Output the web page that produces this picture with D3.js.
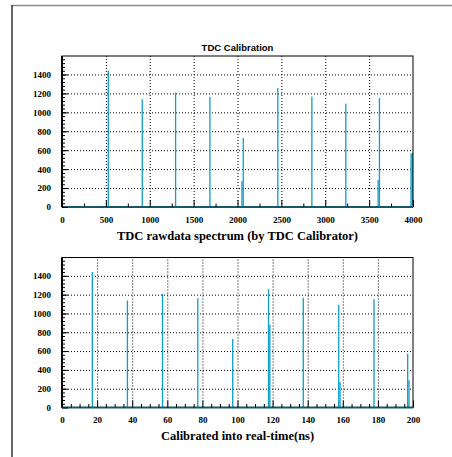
<!DOCTYPE html>
<html>
<head>
<meta charset="utf-8">
<script src="https://cdn.jsdelivr.net/npm/d3@7"></script>
<style>
  html, body { margin: 0; padding: 0; background: #fff; }
  svg { display: block; }
</style>
</head>
<body>
<svg id="chart" width="452" height="457"></svg>
<script>
// TDC calibration: raw channel spectrum and the same peaks mapped to time.
const chartTitle = "TDC Calibration";
const rawTitle = "TDC rawdata spectrum (by TDC Calibrator)";
const timeTitle = "Calibrated into real-time(ns)";

// counts in the peak bin of each calibrator pulse
const peakCounts = [1440, 1138, 1208, 1163, 729, 1258, 1166, 1092, 1152, 572];
// counts spilling into the neighbouring bin
const rawSideCounts = [0, 0, 0, 0, 275, 0, 0, 0, 285, 565];
const timeSideCounts = [0, 0, 0, 0, 0, 880, 0, 272, 0, 290];

// raw spectrum: bin low edges (channels), bin width 15
const rawBinWidth = 15;
const rawPeakBins = [520, 907, 1287, 1678, 2058, 2452, 2840, 3227, 3610, 3985];
const rawTicks = [0, 500, 1000, 1500, 2000, 2500, 3000, 3500, 4000];
const rawMinorTicks = [250, 750, 1250, 1750, 2250, 2750, 3250, 3750];

// calibrated spectrum: bin low edges (ns), bin width 0.75
const timeBinWidth = 0.75;
const timePeakBins = [16.9, 36.9, 56.9, 77.0, 96.9, 117.3, 137.1, 157.3, 177.4, 196.6];
const timeTicks = [0, 20, 40, 60, 80, 100, 120, 140, 160, 180, 200];
const timeMinorTicks = [5, 10, 15, 25, 30, 35, 45, 50, 55, 65, 70, 75, 85, 90, 95,
  105, 110, 115, 125, 130, 135, 145, 150, 155, 165, 170, 175, 185, 190, 195];

const countTicks = [0, 200, 400, 600, 800, 1000, 1200, 1400];
const countMax = 1595;

const svg = d3.select("#chart");
const serif = "'Liberation Serif', 'Times New Roman', serif";
const sans = "'Liberation Sans', Arial, sans-serif";
const barColor = "#0f9fcc";
const lineColor = "#16586a";
const fmt = d3.format("d");

// canvas border
svg.append("line").attr("x1", 12).attr("x2", 452).attr("y1", 5.5).attr("y2", 5.5)
  .attr("stroke", "#8a8a8a").attr("stroke-width", 1.5);
svg.append("line").attr("x1", 12).attr("x2", 12).attr("y1", 5).attr("y2", 457)
  .attr("stroke", "#000").attr("stroke-width", 1.2);

svg.append("text").attr("x", 237.5).attr("y", 50.5).attr("text-anchor", "middle")
  .attr("font-family", sans).attr("font-weight", "bold").attr("font-size", 9.5)
  .text(chartTitle);

function panel(opts) {
  const left = 62, right = 413, top = opts.top, bottom = opts.bottom;
  const x = d3.scaleLinear().domain(opts.xDomain).range([left, right]);
  const y = d3.scaleLinear().domain([0, countMax]).range([bottom, top]);
  const g = svg.append("g");

  // dotted grid
  g.append("g").attr("transform", `translate(0,${bottom})`)
    .call(d3.axisBottom(x).tickValues(opts.xTicks.slice(1, -1)).tickSize(-(bottom - top)).tickFormat(""))
    .call(a => a.select(".domain").remove())
    .call(a => a.selectAll("line").attr("stroke", "#000").attr("stroke-dasharray", "1,2").attr("stroke-width", 1));
  g.append("g").attr("transform", `translate(${left},0)`)
    .call(d3.axisLeft(y).tickValues(countTicks.slice(1)).tickSize(-(right - left)).tickFormat(""))
    .call(a => a.select(".domain").remove())
    .call(a => a.selectAll("line").attr("stroke", "#000").attr("stroke-dasharray", "1,2").attr("stroke-width", 1));

  // histogram bins
  const bins = [];
  opts.peakBins.forEach((b, i) => {
    bins.push({ x0: b, n: peakCounts[i] });
    if (opts.side[i] > 0) bins.push({ x0: b + opts.sideOffset * opts.binWidth, n: opts.side[i] });
  });
  g.append("g").selectAll("rect").data(bins).join("rect")
    .attr("x", d => x(d.x0))
    .attr("width", d => x(d.x0 + opts.binWidth) - x(d.x0))
    .attr("y", d => y(d.n))
    .attr("height", d => y(0) - y(d.n))
    .attr("fill", barColor);

  // frame
  g.append("rect").attr("x", left).attr("y", top).attr("width", right - left).attr("height", bottom - top)
    .attr("fill", "none").attr("stroke", "#000").attr("stroke-width", 1);
  g.append("line").attr("x1", left).attr("x2", left).attr("y1", top).attr("y2", bottom)
    .attr("stroke", "#000").attr("stroke-width", 2);

  // histogram baseline
  g.append("line").attr("x1", left).attr("x2", right).attr("y1", bottom).attr("y2", bottom)
    .attr("stroke", lineColor).attr("stroke-width", 2);

  // x axis ticks (inside) and labels
  const xa = g.append("g").attr("transform", `translate(0,${bottom})`)
    .call(d3.axisBottom(x).tickValues(opts.xTicks).tickFormat(fmt).tickSizeInner(-7).tickSizeOuter(0).tickPadding(11))
    .call(a => a.select(".domain").remove());
  xa.selectAll("line").attr("stroke", "#000");
  xa.selectAll("text").attr("font-family", serif).attr("font-weight", "bold").attr("font-size", 9).attr("fill", "#000").attr("dy", "0.55em");
  g.append("g").attr("transform", `translate(0,${bottom})`)
    .call(d3.axisBottom(x).tickValues(opts.xMinor).tickSize(-3.5).tickFormat(""))
    .call(a => a.select(".domain").remove())
    .call(a => a.selectAll("line").attr("stroke", "#000"));

  // y axis ticks (inside) and labels
  const ya = g.append("g").attr("transform", `translate(${left},0)`)
    .call(d3.axisLeft(y).tickValues(countTicks).tickFormat(fmt).tickSizeInner(-6).tickSizeOuter(0).tickPadding(11))
    .call(a => a.select(".domain").remove());
  ya.selectAll("line").attr("stroke", "#000");
  ya.selectAll("text").attr("font-family", serif).attr("font-weight", "bold").attr("font-size", 9).attr("fill", "#000");
  g.append("g").attr("transform", `translate(${left},0)`)
    .call(d3.axisLeft(y).tickValues(d3.range(40, countMax, 40)).tickSize(-3).tickFormat(""))
    .call(a => a.select(".domain").remove())
    .call(a => a.selectAll("line").attr("stroke", "#000"));

  g.append("text").attr("x", (left + right) / 2).attr("y", opts.titleY).attr("text-anchor", "middle")
    .attr("font-family", serif).attr("font-weight", "bold").attr("font-size", 12.5)
    .text(opts.title);
}

panel({
  top: 56, bottom: 207, xDomain: [0, 4000], xTicks: rawTicks, xMinor: rawMinorTicks,
  peakBins: rawPeakBins, side: rawSideCounts, sideOffset: -1, binWidth: rawBinWidth,
  title: rawTitle, titleY: 240
});
panel({
  top: 257.5, bottom: 407.5, xDomain: [0, 200], xTicks: timeTicks, xMinor: timeMinorTicks,
  peakBins: timePeakBins, side: timeSideCounts, sideOffset: 1, binWidth: timeBinWidth,
  title: timeTitle, titleY: 440
});
</script>
</body>
</html>
